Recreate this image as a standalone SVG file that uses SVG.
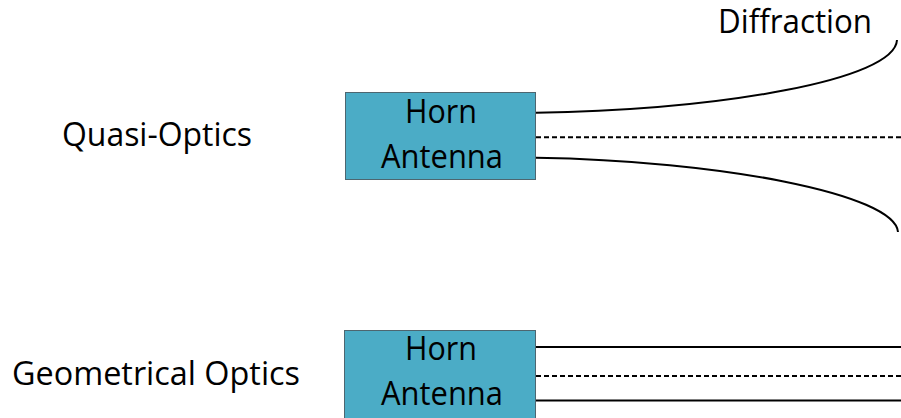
<svg xmlns="http://www.w3.org/2000/svg" width="901" height="418" viewBox="0 0 901 418">
<style>
text{font-family:"Open Sans","Noto Sans","Liberation Sans",sans-serif;font-size:32px;fill:#000}
.box{fill:#4BACC6;stroke:#4D6670;stroke-width:1}
.mid{text-anchor:middle}
.solid{fill:none;stroke:#000;stroke-width:2}
.dash{fill:none;stroke:#000;stroke-width:2;stroke-dasharray:5 3}
</style>
<rect width="901" height="418" fill="#fff"/>
<g id="label-quasi"><text class="mid" x="157" y="146" textLength="190" lengthAdjust="spacingAndGlyphs">Quasi-Optics</text></g>
<g id="label-geo"><text class="mid" x="156" y="385" textLength="288" lengthAdjust="spacingAndGlyphs">Geometrical Optics</text></g>
<g id="label-diffraction"><text class="mid" x="795" y="33" textLength="154" lengthAdjust="spacingAndGlyphs">Diffraction</text></g>
<g id="horn1">
<rect class="box" x="345.5" y="92.5" width="190" height="87"/>
<text class="mid" x="441" y="123" textLength="72" lengthAdjust="spacingAndGlyphs">Horn</text>
<text class="mid" x="442" y="168" textLength="122" lengthAdjust="spacingAndGlyphs">Antenna</text>
</g>
<g id="horn2">
<rect class="box" x="344.5" y="330.5" width="191" height="90"/>
<text class="mid" x="441" y="360" textLength="72" lengthAdjust="spacingAndGlyphs">Horn</text>
<text class="mid" x="442" y="405" textLength="122" lengthAdjust="spacingAndGlyphs">Antenna</text>
</g>
<g id="connectors">
<path class="solid" d="M536,112.7 C720,110 895,80 897,40"/>
<path class="solid" d="M536,157.7 C720,160.5 895,194 898,232"/>
<path class="dash" d="M536,137.3 H901"/>
<path class="solid" d="M536,347 H901"/>
<path class="dash" d="M536,376 H901"/>
<path class="solid" d="M536,400.5 H901"/>
</g>
</svg>
